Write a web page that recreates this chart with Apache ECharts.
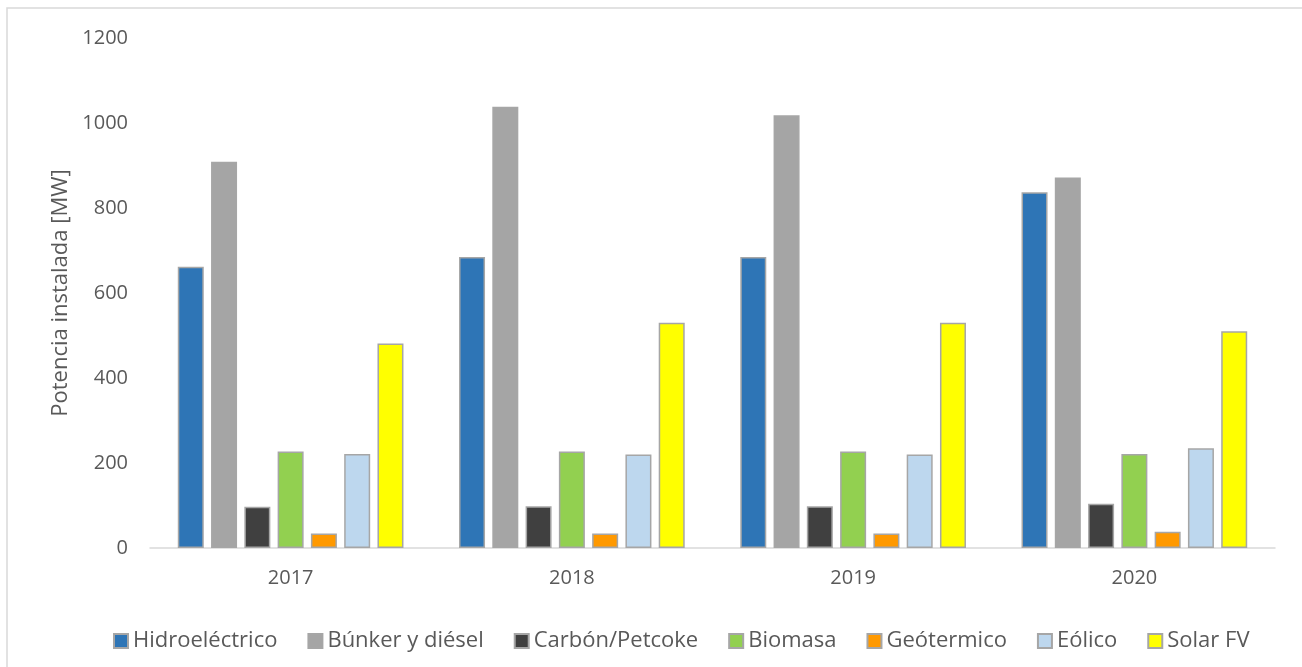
<!DOCTYPE html>
<html>
<head>
<meta charset="utf-8">
<script src="https://cdn.jsdelivr.net/npm/echarts@6/dist/echarts.min.js"></script>
<style>
  html, body { margin: 0; padding: 0; background: #ffffff; }
  #chart { width: 1302px; height: 667px; }
</style>
</head>
<body>
<div id="chart"></div>
<script>
// Installed capacity by source, MW
const years = ['2017', '2018', '2019', '2020'];
const hidroelectrico = [662, 685, 685, 837];
const bunkerDiesel = [909, 1038, 1018, 872];
const carbonPetcoke = [97, 98, 98, 104];
const biomasa = [227, 227, 227, 221];
const geotermico = [34, 34, 34, 38];
const eolico = [221, 220, 220, 235];
const solarFV = [481, 530, 530, 510];

const seriesNames = ['Hidroeléctrico', 'Búnker y diésel', 'Carbón/Petcoke', 'Biomasa', 'Geótermico', 'Eólico', 'Solar FV'];
const seriesData = [hidroelectrico, bunkerDiesel, carbonPetcoke, biomasa, geotermico, eolico, solarFV];
const seriesColors = ['#2E75B6', '#A5A5A5', '#404040', '#92D050', '#FF9900', '#BDD7EE', '#FFFF00'];

const yTicks = { min: 0, max: 1200, interval: 200 };

const textColor = '#595959';
const fontFamily = '"Open Sans", "Liberation Sans", sans-serif';

const chart = echarts.init(document.getElementById('chart'), null, { renderer: 'canvas' });

chart.setOption({
  backgroundColor: '#ffffff',
  animation: false,
  graphic: [{
    type: 'rect',
    shape: { x: 7, y: 8, width: 1400, height: 800 },
    style: { fill: 'none', stroke: '#D9D9D9', lineWidth: 1.5 },
    silent: true
  }],
  grid: { left: 150, right: 27, top: 38, bottom: 119 },
  legend: {
    data: seriesNames,
    left: 108,
    top: 625,
    itemWidth: 14,
    itemHeight: 14,
    itemGap: 30,
    icon: 'rect',
    textStyle: { color: textColor, fontSize: 22, fontFamily: fontFamily }
  },
  xAxis: {
    type: 'category',
    data: years,
    axisLine: { show: true, lineStyle: { color: '#D9D9D9', width: 1.5 } },
    axisTick: { show: false },
    axisLabel: { color: textColor, fontSize: 20, fontFamily: fontFamily, margin: 20 },
    splitLine: { show: false }
  },
  yAxis: {
    type: 'value',
    min: yTicks.min,
    max: yTicks.max,
    interval: yTicks.interval,
    name: 'Potencia instalada [MW]',
    nameLocation: 'middle',
    nameGap: 74,
    nameTextStyle: { color: textColor, fontSize: 22, fontFamily: fontFamily },
    axisLine: { show: false },
    axisTick: { show: false },
    splitLine: { show: false },
    axisLabel: {
      color: textColor, fontSize: 20, fontFamily: fontFamily, margin: 22,
      formatter: (v) => String(v)
    }
  },
  series: seriesNames.map((name, i) => ({
    name: name,
    type: 'bar',
    data: seriesData[i],
    barWidth: 26,
    barGap: '28%',
    itemStyle: { color: seriesColors[i], borderColor: '#A6A6A6', borderWidth: 1.5 }
  }))
});
</script>
</body>
</html>
